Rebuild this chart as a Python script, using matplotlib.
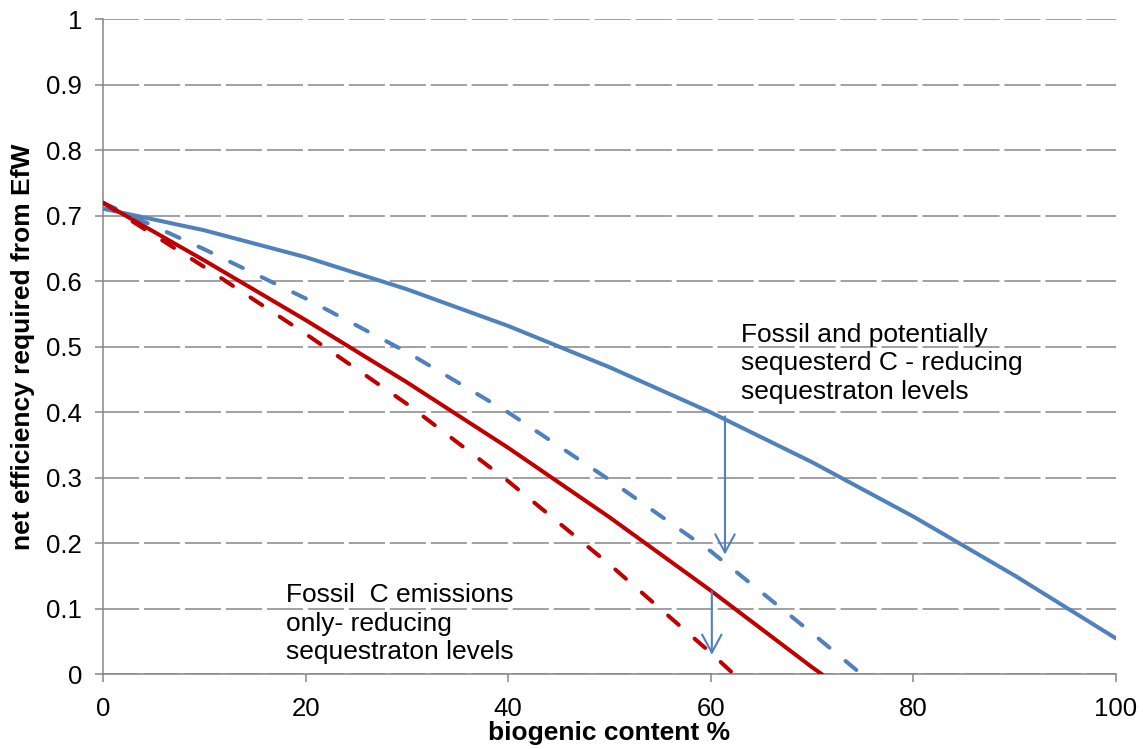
import matplotlib
matplotlib.use("Agg")
import matplotlib.pyplot as plt

plt.rcParams["font.family"] = ["Liberation Sans", "DejaVu Sans"]

# ---- values ----
x_blue_solid = [0, 10, 20, 30, 40, 50, 60, 70, 80, 90, 100]
y_blue_solid = [0.711, 0.678, 0.637, 0.588, 0.532, 0.469, 0.400, 0.324, 0.241, 0.151, 0.055]

x_blue_dash = [0, 10, 20, 30, 40, 50, 60, 70, 74.9]
y_blue_dash = [0.720, 0.649, 0.574, 0.492, 0.400, 0.297, 0.188, 0.063, 0.0]

x_red_solid = [0, 10, 20, 30, 40, 50, 60, 70, 71.0]
y_red_solid = [0.720, 0.632, 0.541, 0.446, 0.346, 0.240, 0.128, 0.011, 0.0]

x_red_dash = [0, 10, 20, 30, 40, 50, 60, 62.3]
y_red_dash = [0.720, 0.622, 0.520, 0.413, 0.295, 0.168, 0.033, 0.0]

# arrows: (x, y_start, y_end)
arrows = [(61.4, 0.394, 0.183), (60.1, 0.127, 0.030)]

x_ticks = [0, 20, 40, 60, 80, 100]
y_ticks = [0, 0.1, 0.2, 0.3, 0.4, 0.5, 0.6, 0.7, 0.8, 0.9, 1]
y_tick_labels = ["0", "0.1", "0.2", "0.3", "0.4", "0.5", "0.6", "0.7", "0.8", "0.9", "1"]

BLUE = "#4F81BD"
RED = "#C00000"
GREY = "#868686"

fig = plt.figure(figsize=(11.43, 7.49), dpi=100)
ax = fig.add_axes([0.0901, 0.0995, 0.8863, 0.8747])

lw = 2.9
dash = (0, (3.5, 5.2))
ax.plot(x_blue_solid, y_blue_solid, color=BLUE, lw=lw, solid_capstyle="round", zorder=3)
ax.plot(x_blue_dash, y_blue_dash, color=BLUE, lw=lw, linestyle=dash,
        dash_capstyle="round", zorder=3)
ax.plot(x_red_solid, y_red_solid, color=RED, lw=lw, solid_capstyle="round", zorder=4)
ax.plot(x_red_dash, y_red_dash, color=RED, lw=lw, linestyle=dash,
        dash_capstyle="round", zorder=4)

for x, y0, y1 in arrows:
    ax.annotate("", xy=(x, y1), xytext=(x, y0),
                arrowprops=dict(arrowstyle="->, head_length=0.65, head_width=0.35",
                                color=BLUE, lw=1.5, mutation_scale=20,
                                shrinkA=0, shrinkB=0), zorder=5)

ax.text(63.0, 0.537, "Fossil and potentially\nsequesterd C - reducing\nsequestraton levels",
        fontsize=19, va="top", ha="left", linespacing=1.25)
ax.text(18.1, 0.14, "Fossil  C emissions\nonly- reducing\nsequestraton levels",
        fontsize=19, va="top", ha="left", linespacing=1.25)

ax.set_xlim(0, 100)
ax.set_ylim(0, 1)
ax.set_xticks(x_ticks)
ax.set_yticks(y_ticks)
ax.set_yticklabels(y_tick_labels)
ax.tick_params(axis="both", direction="out", length=6, width=1.1, color=GREY,
               labelsize=18.5, pad=9)
ax.tick_params(axis="x", pad=10)

glw = 1.1
ax.yaxis.grid(True, color=GREY, lw=glw, linestyle=(0, (26 / glw, 3.5 / glw)))
ax.set_axisbelow(True)
for s in ("top", "right"):
    ax.spines[s].set_visible(False)
for s in ("left", "bottom"):
    ax.spines[s].set_color(GREY)
    ax.spines[s].set_linewidth(1.1)

ax.set_xlabel("biogenic content %", fontsize=19, fontweight="bold", labelpad=0)
ax.set_ylabel("net efficiency required from EfW", fontsize=19, fontweight="bold",
              labelpad=8)

fig.savefig("out.png", dpi=100, facecolor="white")
